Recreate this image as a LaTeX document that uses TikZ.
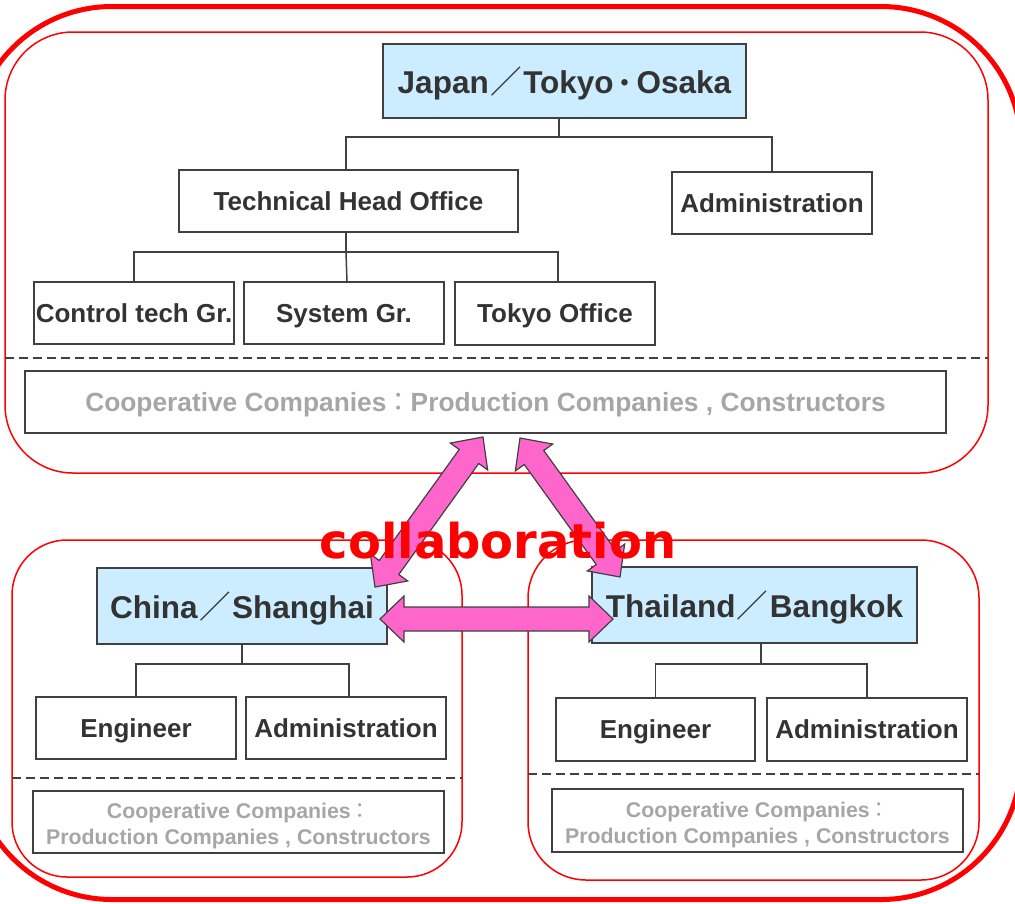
\documentclass[tikz,border=0pt]{standalone}
\usepackage{fontspec}
\setmainfont{Liberation Sans}
\newfontfamily\cjk{Noto Sans CJK JP}
\newfontfamily\dejavu{DejaVu Sans}
\usetikzlibrary{calc}
\definecolor{boxblue}{HTML}{CCECFF}
\definecolor{txt}{HTML}{333333}
\definecolor{edge}{HTML}{404040}
\definecolor{coopgray}{HTML}{A6A6A6}
\definecolor{pinkarrow}{HTML}{FF66CC}
\definecolor{rred}{HTML}{FF0000}
\newcommand\fwslash{\kern1.5pt{\cjk\mdseries ／}\kern1.5pt}
\newcommand\fwdot{\raisebox{2pt}{\cjk\bfseries\fontsize{23}{23}\selectfont ・}}
\newcommand\fwcolon{\kern-1pt{\cjk\mdseries ：}\kern-1pt}
\tikzset{
  box/.style={draw=edge, line width=2pt, fill=white, inner sep=0pt, outer sep=0pt,
    text=txt, font=\bfseries\fontsize{26}{30}\selectfont, text height=18.6pt, text depth=0pt},
  titlebox/.style={box, fill=boxblue, font=\bfseries\fontsize{31.5}{36}\selectfont,
    text height=24.5pt, text depth=0pt},
  coopbox/.style={box, text=coopgray, font=\bfseries\fontsize{26.3}{30}\selectfont},
  plainbox/.style={draw=edge, line width=2pt, fill=white, inner sep=0pt, outer sep=0pt},
  cooptext/.style={inner sep=0pt, text=coopgray, align=center,
    font=\bfseries\fontsize{21.3}{26}\selectfont},
  conn/.style={draw=edge, line width=1.5pt},
  region/.style={draw=rred, line width=1.5pt},
  sep/.style={draw=edge, line width=1.5pt, dash pattern=on 9pt off 5pt},
  arr/.style={draw=edge, line width=1.2pt, fill=pinkarrow, line join=miter},
}
\newcommand\blockdarrow[2]{%
  \coordinate (HA) at ($(#1)!24pt!(#2)$);
  \coordinate (HB) at ($(#2)!24pt!(#1)$);
  \draw[arr] (#1) -- ($(HA)!23pt!90:(#2)$) -- ($(HA)!12pt!90:(#2)$)
    -- ($(HB)!12pt!-90:(#1)$) -- ($(HB)!23pt!-90:(#1)$) -- (#2)
    -- ($(HB)!23pt!90:(#1)$) -- ($(HB)!12pt!90:(#1)$)
    -- ($(HA)!12pt!-90:(#2)$) -- ($(HA)!23pt!-90:(#2)$) -- cycle;
}
\begin{document}
\begin{tikzpicture}[x=1pt,y=-1pt]
\useasboundingbox (0,0) rectangle (1015,903);
\fill[white] (0,0) rectangle (1015,903);
% regions
\draw[rred, line width=5pt, rounded corners=140pt] (-28,6.5) rectangle (1021,899.5);
\draw[region, rounded corners=68pt] (5,32) rectangle (988,473);
\draw[region, rounded corners=55pt] (12,540) rectangle (462,877);
\draw[region, rounded corners=58pt] (528,540) rectangle (979,880);
% dashed separators
\draw[sep] (5,358) -- (988,358);
\draw[sep] (12,778) -- (462,778);
\draw[sep] (528,774) -- (979,774);
% Japan
\node[titlebox, minimum width=363pt, minimum height=74pt] (japan) at (564.5,81)
  {Japan\fwslash Tokyo\fwdot Osaka};
\node[box, minimum width=339pt, minimum height=62pt] (tho) at (348.5,201) {Technical Head Office};
\node[box, minimum width=200pt, minimum height=62pt] (adm) at (772,203) {Administration};
\node[box, minimum width=200pt, minimum height=62pt] (ctg) at (134,313) {Control tech Gr.};
\node[box, minimum width=200pt, minimum height=62pt] (sysg) at (344,313) {System Gr.};
\node[box, minimum width=200pt, minimum height=63pt] (tko) at (555,313.5) {Tokyo Office};
\node[coopbox, minimum width=921pt, minimum height=62pt] (coop1) at (485.5,402)
  {Cooperative Companies\fwcolon Production Companies , Constructors};
\coordinate (jb) at (559,137);
\draw[conn] (japan.south -| jb) -- (jb);
\draw[conn] ([xshift=-2.5pt]tho.north) |- (jb) -| (adm.north);
\coordinate (tb) at (346,252);
\draw[conn] ([xshift=-2.5pt]tho.south) -- (tb);
\draw[conn] (ctg.north) |- (tb) -| ([xshift=3pt]tko.north);
\draw[conn] (tb) -- ([xshift=3pt]sysg.north);
% China
\node[titlebox, minimum width=290pt, minimum height=76pt] (china) at (242,606)
  {China\fwslash Shanghai};
\node[box, minimum width=200pt, minimum height=62pt] (ceng) at (136,728) {Engineer};
\node[box, minimum width=200pt, minimum height=62pt] (cadm) at (346,728) {Administration};
\node[plainbox, minimum width=411pt, minimum height=62pt] (ccoop) at (238.5,822) {};
\node[cooptext] (ccooptxt) at ($(ccoop.center)+(0,4)$)
  {Cooperative Companies\fwcolon\\Production Companies , Constructors};
\coordinate (cb) at (242,664);
\draw[conn] (china.south) -- (cb);
\draw[conn] (ceng.north) |- (cb) -| ([xshift=3pt]cadm.north);
% Thailand
\node[titlebox, minimum width=325pt, minimum height=76pt] (thai) at (754.5,605)
  {Thailand\fwslash Bangkok};
\node[box, minimum width=199pt, minimum height=63pt] (teng) at (655.5,729.5) {Engineer};
\node[box, minimum width=200pt, minimum height=63pt] (tadm) at (867,729.5) {Administration};
\node[plainbox, minimum width=411pt, minimum height=63pt] (tcoop) at (757.5,820.5) {};
\node[cooptext] (tcooptxt) at ($(tcoop.center)+(0,4)$)
  {Cooperative Companies\fwcolon\\Production Companies , Constructors};
\coordinate (tb2) at (761,664);
\draw[conn] ([xshift=6.5pt]thai.south) -- (tb2);
\draw[conn] (teng.north) |- (tb2) -| (tadm.north);
% arrows
\coordinate (aL1) at (375,587);
\coordinate (aL2) at (483,437);
\coordinate (aR1) at (520,438);
\coordinate (aR2) at (620,577);
\coordinate (aH1) at (380,619);
\coordinate (aH2) at (613,619);
\blockdarrow{aL1}{aL2}
\blockdarrow{aR1}{aR2}
\blockdarrow{aH1}{aH2}
\node[anchor=base, inner sep=0pt, text=rred, font=\dejavu\bfseries\fontsize{48}{52}\selectfont] (collab) at (498,558) {collaboration};
\end{tikzpicture}
\end{document}
